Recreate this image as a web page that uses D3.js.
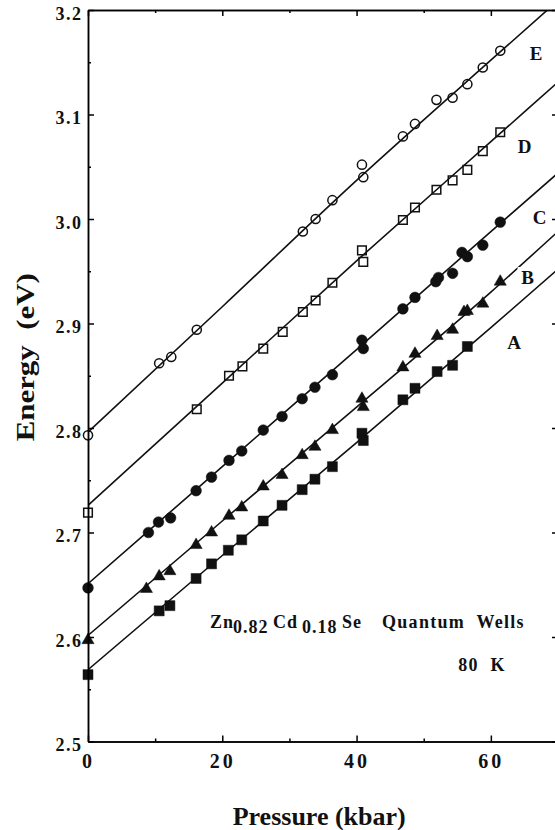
<!DOCTYPE html>
<html>
<head>
<meta charset="utf-8">
<script src="https://cdn.jsdelivr.net/npm/d3@7"></script>
<style>
body { margin: 0; background: #fff; }
svg text { font-family: "Liberation Serif", "Times New Roman", serif; font-weight: bold; fill: #111; }
</style>
</head>
<body>
<script>
// measured points: pressure (kbar) and energy (eV) for each transition
var pressE = [0, 10.6, 12.4, 16.2, 32.0, 33.9, 36.4, 40.8, 41.0, 46.9, 48.7, 51.9, 54.3, 56.5, 58.8, 61.4];
var energyE = [2.793, 2.862, 2.868, 2.894, 2.988, 3.000, 3.018, 3.052, 3.040, 3.079, 3.091, 3.114, 3.116, 3.129, 3.145, 3.161];

var pressD = [0, 16.2, 21.0, 23.0, 26.1, 29.0, 32.0, 33.9, 36.4, 40.8, 41.0, 46.9, 48.7, 51.9, 54.3, 56.5, 58.8, 61.4];
var energyD = [2.719, 2.818, 2.850, 2.859, 2.876, 2.892, 2.911, 2.922, 2.939, 2.970, 2.959, 2.999, 3.011, 3.028, 3.037, 3.047, 3.065, 3.083];

var pressC = [0, 9.0, 10.5, 12.3, 16.1, 18.4, 21.0, 22.9, 26.1, 28.9, 31.9, 33.8, 36.4, 40.8, 41.0, 46.9, 48.7, 51.8, 52.2, 54.3, 55.7, 56.5, 58.8, 61.4];
var energyC = [2.647, 2.700, 2.710, 2.714, 2.740, 2.753, 2.769, 2.778, 2.798, 2.811, 2.828, 2.839, 2.851, 2.884, 2.876, 2.914, 2.925, 2.940, 2.944, 2.948, 2.968, 2.964, 2.975, 2.997];

var pressB = [0, 8.7, 10.6, 12.2, 16.1, 18.4, 21.0, 22.9, 26.1, 28.9, 31.9, 33.8, 36.4, 40.8, 41.0, 46.9, 48.7, 52.0, 54.3, 56.0, 56.5, 58.8, 61.4];
var energyB = [2.597, 2.646, 2.658, 2.663, 2.688, 2.700, 2.716, 2.724, 2.744, 2.755, 2.774, 2.782, 2.798, 2.828, 2.820, 2.858, 2.871, 2.888, 2.894, 2.911, 2.912, 2.919, 2.940];

var pressA = [0, 10.6, 12.2, 16.1, 18.4, 20.9, 22.9, 26.1, 28.9, 31.9, 33.8, 36.4, 40.8, 41.0, 46.9, 48.7, 52.0, 54.3, 56.5];
var energyA = [2.564, 2.625, 2.630, 2.656, 2.670, 2.683, 2.693, 2.711, 2.726, 2.741, 2.751, 2.763, 2.795, 2.788, 2.827, 2.838, 2.854, 2.860, 2.878];

// fitted curves
var fitPress = [0, 20, 40, 60, 70];
var fitE = [2.796, 2.916, 3.037, 3.152, 3.209];
var fitD = [2.726, 2.843, 2.960, 3.074, 3.131];
var fitC = [2.651, 2.763, 2.875, 2.988, 3.044];
var fitB = [2.6015, 2.711, 2.820, 2.930, 2.988];
var fitA = [2.5687, 2.678, 2.786, 2.896, 2.952];

var xTicks = [0, 20, 40, 60];
var xMinor = [10, 30, 50];
var yTicks = [2.5, 2.6, 2.7, 2.8, 2.9, 3.0, 3.1, 3.2];
var yMinor = [2.55, 2.65, 2.75, 2.85, 2.95, 3.05, 3.15];

const chart = () => {

    var width = 555, height = 830;

    var x = d3.scaleLinear().domain([0, 70]).range([88, 558]);
    var y = d3.scaleLinear().domain([2.5, 3.2]).range([741.5, 10]);

    var svg = d3.select("body").append("svg")
        .attr("width", width)
        .attr("height", height);

    svg.append("clipPath").attr("id", "plot")
        .append("rect")
        .attr("x", x(0)).attr("y", y(3.2))
        .attr("width", x(70) - x(0)).attr("height", y(2.5) - y(3.2));

    var series = [
        { name: "E", p: pressE, e: energyE, fit: fitE, type: d3.symbolCircle, filled: false, size: 66, lx: 536, ly: 60 },
        { name: "D", p: pressD, e: energyD, fit: fitD, type: d3.symbolSquare, filled: false, size: 74, lx: 524.7, ly: 153.3 },
        { name: "C", p: pressC, e: energyC, fit: fitC, type: d3.symbolCircle, filled: true, size: 90, lx: 539.7, ly: 224.3 },
        { name: "B", p: pressB, e: energyB, fit: fitB, type: d3.symbolTriangle, filled: true, size: 64, lx: 527.5, ly: 284.3 },
        { name: "A", p: pressA, e: energyA, fit: fitA, type: d3.symbolSquare, filled: true, size: 100, lx: 514, ly: 349.3 }
    ];

    var line = d3.line()
        .x(function (d) { return x(d[0]); })
        .y(function (d) { return y(d[1]); })
        .curve(d3.curveMonotoneX);

    // fit lines
    var lines = svg.append("g").attr("clip-path", "url(#plot)");
    series.forEach(function (s) {
        lines.append("path")
            .datum(fitPress.map(function (p, i) { return [p, s.fit[i]]; }))
            .attr("fill", "none")
            .attr("stroke", "#111")
            .attr("stroke-width", 1.6)
            .attr("d", line);
    });

    // markers
    series.forEach(function (s) {
        var sym = d3.symbol().type(s.type).size(s.size);
        svg.append("g").selectAll("path")
            .data(s.p.map(function (p, i) { return [p, s.e[i]]; }))
            .enter().append("path")
            .attr("transform", function (d) { return "translate(" + x(d[0]) + "," + y(d[1]) + ")"; })
            .attr("d", sym)
            .attr("fill", s.filled ? "#111" : "none")
            .attr("stroke", "#111")
            .attr("stroke-width", s.filled ? 0.5 : 1.5);
    });

    // series labels
    svg.append("g").selectAll("text")
        .data(series)
        .enter().append("text")
        .attr("x", function (d) { return d.lx; })
        .attr("y", function (d) { return d.ly; })
        .attr("text-anchor", "middle")
        .style("font-size", "19px")
        .attr("stroke", "#fff")
        .attr("stroke-width", 8)
        .attr("paint-order", "stroke")
        .text(function (d) { return d.name; });

    // axes
    function addAxis(gen, tr) {
        var g = svg.append("g").attr("transform", tr).call(gen);
        g.select(".domain").attr("stroke-width", 1.5);
        g.selectAll(".tick line").attr("stroke-width", 1.5);
        return g;
    }

    var left = addAxis(d3.axisLeft(y).tickValues(yTicks).tickSizeInner(-6).tickSizeOuter(0)
        .tickPadding(5.5).tickFormat(d3.format(".1f")), "translate(" + x(0) + ",0)");
    left.selectAll("text").attr("dy", "0.5em")
        .style("font-size", "18px").style("letter-spacing", "1.5px");
    addAxis(d3.axisLeft(y).tickValues(yMinor).tickSizeInner(-3).tickSizeOuter(0).tickFormat(""),
        "translate(" + x(0) + ",0)");

    addAxis(d3.axisRight(y).tickValues(yTicks).tickSizeInner(-6).tickSizeOuter(0).tickFormat(""),
        "translate(" + x(70) + ",0)");
    addAxis(d3.axisRight(y).tickValues(yMinor).tickSizeInner(-3).tickSizeOuter(0).tickFormat(""),
        "translate(" + x(70) + ",0)");

    var bottom = addAxis(d3.axisBottom(x).tickValues(xTicks).tickSizeInner(-6).tickSizeOuter(0)
        .tickPadding(12.6).tickFormat(d3.format("d")), "translate(0," + y(2.5) + ")");
    bottom.selectAll("text")
        .style("font-size", "20px").style("letter-spacing", "3px");
    addAxis(d3.axisBottom(x).tickValues(xMinor).tickSizeInner(-3).tickSizeOuter(0).tickFormat(""),
        "translate(0," + y(2.5) + ")");

    addAxis(d3.axisTop(x).tickValues(xTicks).tickSizeInner(-6).tickSizeOuter(0).tickFormat(""),
        "translate(0," + y(3.2) + ")");
    addAxis(d3.axisTop(x).tickValues(xMinor).tickSizeInner(-3).tickSizeOuter(0).tickFormat(""),
        "translate(0," + y(3.2) + ")");

    // axis titles
    svg.append("text")
        .attr("transform", "translate(34.3,357.3) rotate(-90)")
        .attr("text-anchor", "middle")
        .attr("textLength", 168)
        .attr("lengthAdjust", "spacingAndGlyphs")
        .style("font-size", "26px")
        .style("white-space", "pre")
        .text("Energy  (eV)");

    svg.append("text")
        .attr("x", 319.2)
        .attr("y", 825)
        .attr("text-anchor", "middle")
        .style("font-size", "26px")
        .text("Pressure (kbar)");

    // sample annotation
    var note = svg.append("text")
        .attr("y", 628.3)
        .style("font-size", "18px")
        .style("letter-spacing", "1px")
        .style("white-space", "pre");
    note.append("tspan").attr("x", 210).text("Zn");
    note.append("tspan").attr("x", 233).attr("dy", 5).text("0.82");
    note.append("tspan").attr("x", 273).attr("dy", -5).text("Cd");
    note.append("tspan").attr("x", 302).attr("dy", 5).text("0.18");
    note.append("tspan").attr("x", 342).attr("dy", -5).text("Se");
    note.append("tspan").attr("x", 382).style("letter-spacing", "1.3px").text("Quantum  Wells");

    svg.append("text")
        .attr("x", 458.3)
        .attr("y", 670.7)
        .style("font-size", "18px")
        .style("letter-spacing", "1.3px")
        .style("white-space", "pre")
        .text("80  K");
};

chart();
</script>
</body>
</html>
